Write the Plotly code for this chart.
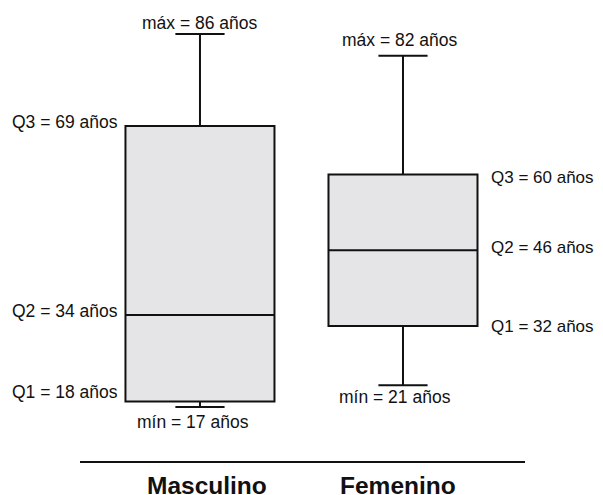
import plotly.graph_objects as go

categories = ["Masculino", "Femenino"]
q1_vals = [18, 32]
median_vals = [34, 46]
q3_vals = [69, 60]
min_vals = [17, 21]
max_vals = [86, 82]

FONT = "Liberation Sans, Arial, sans-serif"
fig = go.Figure()
fig.add_trace(go.Box(
    x=categories,
    q1=q1_vals, median=median_vals, q3=q3_vals,
    lowerfence=min_vals, upperfence=max_vals,
    fillcolor="#e5e5e7",
    line=dict(color="#111111", width=2),
    width=0.734,
    whiskerwidth=0.33,
    boxpoints=False,
    hoverinfo="skip",
    showlegend=False,
))

ann = []
def A(x, y, text, xanchor, xshift, yshift, size=17.5):
    ann.append(dict(x=x, y=y, xref="x", yref="y", text=text, showarrow=False,
                    xanchor=xanchor, yanchor="middle", xshift=xshift, yshift=yshift,
                    font=dict(family=FONT, size=size, color="#111111")))

m, f = categories
A(m, max_vals[0], f"máx = {max_vals[0]} años", "center", 0, 11)
A(m, q3_vals[0], f"Q3 = {q3_vals[0]} años", "right", -80, 4)
A(m, median_vals[0], f"Q2 = {median_vals[0]} años", "right", -80, 4)
A(m, q1_vals[0], f"Q1 = {q1_vals[0]} años", "right", -80, 10)
A(m, min_vals[0], f"mín = {min_vals[0]} años", "center", -7, -15)
A(f, max_vals[1], f"máx = {max_vals[1]} años", "center", -3, 16)
A(f, q3_vals[1], f"Q3 = {q3_vals[1]} años", "left", 86, -2.5, 17)
A(f, median_vals[1], f"Q2 = {median_vals[1]} años", "left", 86, 3, 17)
A(f, q1_vals[1], f"Q1 = {q1_vals[1]} años", "left", 86, -1, 17)
A(f, min_vals[1], f"mín = {min_vals[1]} años", "center", -8, -11.5)

# category labels under the axis line
for cat, dx in zip(categories, [7, -5]):
    ann.append(dict(x=cat, y=0, xref="x", yref="paper", text=f"<b>{cat}</b>",
                    showarrow=False, xanchor="center", yanchor="top",
                    xshift=dx, yshift=-9,
                    font=dict(family=FONT, size=24.5, color="#111111")))

fig.update_layout(
    width=595, height=487,
    margin=dict(l=72, r=78, t=12, b=34),
    paper_bgcolor="white", plot_bgcolor="white",
    annotations=ann,
    xaxis=dict(type="category", range=[-0.591, 1.601], showline=True,
               linecolor="#111111", linewidth=2, showgrid=False, zeroline=False,
               ticks="", showticklabels=False, automargin=False),
    yaxis=dict(range=[7.0, 88.6], visible=False, showgrid=False, zeroline=False,
               automargin=False),
)

fig.write_html("out.html")
